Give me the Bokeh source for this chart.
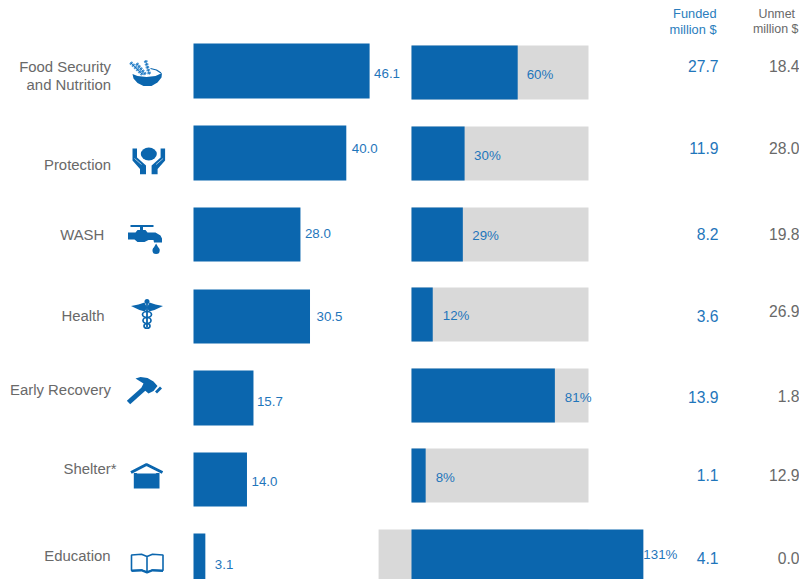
from bokeh.embed import file_html
from bokeh.resources import INLINE
from bokeh.plotting import figure
from bokeh.models import Range1d
from bokeh.core.properties import value

# Funding figures by sector
sectors = ["Food Security\nand Nutrition", "Protection", "WASH", "Health", "Early Recovery", "Shelter*", "Education"]
required = [46.1, 40.0, 28.0, 30.5, 15.7, 14.0, 3.1]
coverage = [60, 30, 29, 12, 81, 8, 131]
funded = [27.7, 11.9, 8.2, 3.6, 13.9, 1.1, 4.1]
unmet = [18.4, 28.0, 19.8, 26.9, 1.8, 12.9, 0.0]
full_track = [100, 100, 100, 100, 100, 100, 100]
track_start = [0, 0, 0, 0, 0, 0, -18.6]

BLUE = "#0b66ae"
LABEL_BLUE = "#1f76bb"
HEAD_BLUE = "#2a7dbd"
GRAY = "#696969"
TRACK = "#d9d9d9"
FONT = value("Liberation Sans")

W, H = 799, 579

# Page-pixel layout of each row
req_top = [43, 125, 207, 289, 370, 452, 533]
req_bottom = [98, 180, 261, 343, 425, 506, 590]
cov_top = [45, 126, 207, 287, 368, 448, 529]
cov_bottom = [99, 180, 261, 341, 422, 502, 590]
req_label_y = [72.6, 147.6, 232.6, 315.6, 400.6, 480.6, 563.6]
req_label_dx = [4.5, 5.5, 4.5, 6.5, 3.5, 4.5, 9.5]
cov_label_y = [73.6, 154.6, 234.6, 314.6, 396.6, 476.6, 553.6]
cov_label_dx = [9, 9.5, 9.5, 10, 10, 10, 0]
funded_y = [65.5, 147.5, 233.5, 315.5, 396.5, 474.5, 557.5]
unmet_y = [65.5, 147.5, 233.5, 310.5, 395.5, 474.5, 557.5]

p = figure(width=W, height=H, x_range=Range1d(0, W), y_range=Range1d(H, 0),
           output_backend="svg", toolbar_location=None, min_border=0,
           outline_line_color=None, background_fill_color="white")
p.axis.visible = False
p.grid.visible = False

# Value scales: requirement in million $, coverage in percent
REQ_PX, REQ_X0 = 3.82, 193
COV_PX, COV_X0 = 1.77, 411
p.extra_x_ranges = {
    "req": Range1d(-REQ_X0 / REQ_PX, (W - REQ_X0) / REQ_PX),
    "cov": Range1d(-COV_X0 / COV_PX, (W - COV_X0) / COV_PX),
}

p.quad(left=0, right=required, top=req_top, bottom=req_bottom, x_range_name="req",
       fill_color=BLUE, line_color=None)
p.quad(left=track_start, right=full_track, top=cov_top, bottom=cov_bottom, x_range_name="cov",
       fill_color=TRACK, line_color=None)
p.quad(left=0, right=coverage, top=cov_top, bottom=cov_bottom, x_range_name="cov",
       fill_color=BLUE, line_color=None)

p.text(x=required, y=req_label_y, text=[f"{v:.1f}" for v in required], x_range_name="req",
       x_offset=req_label_dx, text_font=FONT, text_font_size="13.3px", text_color=LABEL_BLUE,
       text_baseline="middle", text_align="left")
p.text(x=coverage, y=cov_label_y, text=[f"{v}%" for v in coverage], x_range_name="cov",
       x_offset=cov_label_dx, text_font=FONT, text_font_size="13.3px", text_color=LABEL_BLUE,
       text_baseline="middle", text_align="left")

p.text(x=[718] * 7, y=funded_y, text=[f"{v:.1f}" for v in funded], text_font=FONT,
       text_font_size="15.7px", text_color=LABEL_BLUE, text_baseline="middle", text_align="right")
p.text(x=[799] * 7, y=unmet_y, text=[f"{v:.1f}" for v in unmet], text_font=FONT,
       text_font_size="15.7px", text_color=GRAY, text_baseline="middle", text_align="right")

# Column headings
p.text(x=[716, 716], y=[13, 29], text=["Funded", "million $"], text_font=FONT,
       text_font_size="12.8px", text_color=HEAD_BLUE, text_baseline="middle", text_align="right")
p.text(x=[758, 752.5], y=[13, 28], text=["Unmet", "million $"], text_font=FONT,
       text_font_size="12.4px", text_color=GRAY, text_baseline="middle", text_align="left")

# Sector names, one text per line
name_lines = sectors[0].split("\n") + sectors[1:]
name_right = [110.5, 110.5, 110.5, 103.8, 104, 110.5, 116, 110]
name_y = [66, 84, 164, 234, 315, 389, 468, 555]
p.text(x=name_right, y=name_y, text=name_lines, text_font=FONT, text_font_size="14.9px",
       text_color=GRAY, text_baseline="middle", text_align="right")


def mirror(points, cx):
    return [(2 * cx - x, y) for x, y in points]


def fill(points, color=BLUE):
    p.patch([a for a, _ in points], [b for _, b in points], fill_color=color, line_color=None)


def stroke(points, width=1.5, color=BLUE, dash="solid"):
    p.line([a for a, _ in points], [b for _, b in points], line_color=color, line_width=width, line_dash=dash)


# Bowl with wheat
for stalk in ([(130, 62), (142, 74)], [(136, 63), (145, 74)], [(145, 60), (149, 74)]):
    stroke(stalk, 3.6, "#4a97d6", "2 1")
    stroke(stalk, 0.8, BLUE)
stroke([(150, 68), (156, 69.5), (160.5, 72.5)], 1.2)
fill([(132, 73.5), (137, 75.5), (146, 76.5), (155, 75.5), (161.5, 72.5), (161, 77), (157, 82), (151, 85.5),
      (143, 85.5), (137, 82.5), (133, 78)])

# Hands holding a figure
p.ellipse(x=[148.3], y=[153.5], width=[16], height=[13], fill_color=BLUE, line_color=None)
hand = [(132, 148), (136.5, 148), (136.5, 157), (145.5, 165), (145.5, 173.7), (139.5, 173.7), (139.5, 168.5),
        (132, 160)]
fill(hand)
fill(mirror(hand, 148.3))
stroke([(134, 158), (141, 164)], 0.6, "white")
stroke(mirror([(134, 158), (141, 164)], 148.3), 0.6, "white")

# Tap and drop
stroke([(130, 225.5), (153, 225.5)], 2.2)
stroke([(141, 225), (141, 231)], 3)
fill([(127.5, 232), (135, 232), (137, 229.5), (145, 229.5), (147, 232), (155, 232), (160, 235), (161.5, 238),
      (161.5, 242), (153.5, 242), (153, 239.5), (148, 239.5), (144, 241.5), (137, 241.5), (134, 239),
      (127.5, 239)])
p.circle(x=[155.6], y=[250], radius=[3.6], fill_color=BLUE, line_color=None)
fill([(155.6, 243), (152.2, 249), (159, 249)])

# Caduceus
wing = [(130.5, 305.5), (138, 304), (144, 302), (146.5, 307), (144.5, 311), (139, 309.5)]
fill(wing)
fill(mirror(wing, 146.5))
p.circle(x=[146.5], y=[301], radius=[2.5], fill_color=BLUE, line_color=None)
stroke([(146.5, 303), (146.5, 327)], 1.8)
p.ellipse(x=[146.5] * 3, y=[314, 320, 325.5], width=[9, 8, 6], height=[6, 6, 4.5],
          fill_color=None, line_color=BLUE, line_width=1.7)

# Hammer
stroke([(128, 402), (147, 385)], 5)
fill([(135, 378), (140, 376.5), (147, 377.5), (153, 381), (157, 385.5), (153, 390.5), (148, 393), (141, 387),
      (143, 383)])
fill([(154.5, 391), (159.5, 386), (161.5, 388), (156.5, 393)])

# House
stroke([(130.5, 472), (146, 464), (162, 472)], 3)
fill([(133.3, 472.5), (159, 472.5), (159, 488), (133.3, 488)])
fill([(136, 473), (146, 467), (156, 473)], "white")

# Open book
stroke([(146.5, 556), (141, 553.8), (131, 554.5), (131, 570), (141, 569.5), (146.5, 571.5),
        (152, 569.5), (162.5, 570), (162.5, 554.5), (152, 553.8), (146.5, 556), (146.5, 571.5)], 1.6)
stroke([(131, 570.3), (141, 569.8), (146.5, 572), (152, 569.8), (162.5, 570.3)], 2.2)

open("out.html", "w").write(file_html(p, INLINE))
